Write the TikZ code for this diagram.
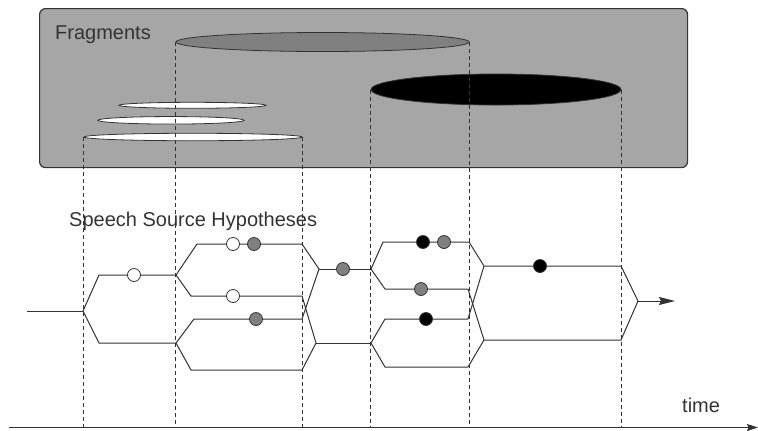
\documentclass[tikz,border=0pt]{standalone}
\usepackage{fontspec}
\setmainfont{Liberation Sans}
\usetikzlibrary{shapes.geometric,arrows.meta}
\definecolor{boxgray}{HTML}{A6A6A6}
\definecolor{midgray}{HTML}{808080}
\definecolor{ink}{HTML}{333333}
\tikzset{
  frag/.style={ellipse, draw=ink, line width=0.8bp, inner sep=0pt},
  proj/.style={draw=ink, dash pattern=on 4bp off 3bp, line width=0.9bp},
  hyp/.style={draw=ink, line width=1bp},
  dotw/.style={circle, draw=ink, fill=white, line width=0.8bp, minimum size=13bp, inner sep=0pt},
  dotg/.style={dotw, fill=midgray},
  dotb/.style={dotw, fill=black},
  lbl/.style={text=ink, inner sep=0pt, font=\fontsize{20bp}{23bp}\selectfont},
}
\begin{document}
\begin{tikzpicture}[x=1bp,y=-1bp]
\useasboundingbox (0,0) rectangle (758,430);
% fragments box
\node[draw=ink, fill=boxgray, line width=1.2bp, rounded corners=6bp, minimum width=648bp, minimum height=159bp, inner sep=0pt, anchor=north west] (box) at (39,8) {};
\node[lbl, anchor=base west] (fraglbl) at (55,39.5) {Fragments};
% fragment ellipses
\node[frag, fill=midgray, minimum width=293bp, minimum height=19bp] (fg) at (322.5,42) {};
\node[frag, fill=black, minimum width=250bp, minimum height=31bp] (fb) at (496,89.5) {};
\node[frag, fill=white, minimum width=147bp, minimum height=6bp] (fw1) at (192.5,105.3) {};
\node[frag, fill=white, minimum width=146bp, minimum height=7.5bp] (fw2) at (171,120.3) {};
\node[frag, fill=white, minimum width=218bp, minimum height=7.5bp] (fw3) at (193,137) {};
% projection end points on the time axis
\coordinate (t1) at (84,427.5);
\coordinate (t2) at (176,427.5);
\coordinate (t3) at (302,427.5);
\coordinate (t4) at (371,427.5);
\coordinate (t5) at (469,427.5);
\coordinate (t6) at (621,427.5);
\draw[proj] (fw3.west) -- (fw3.west |- t1);
\draw[proj] (fg.west) -- (fg.west |- t2);
\draw[proj] (fw3.east) -- (fw3.east |- t3);
\draw[proj] (fb.west) -- (fb.west |- t4);
\draw[proj] (fg.east) -- (fg.east |- t5);
\draw[proj] (fb.east) -- (fb.east |- t6);
% time axis
\coordinate (t0) at (9,427.5);
\coordinate (tend) at (758,427.5);
\draw[draw=ink, line width=1.2bp, -{Stealth[length=11bp,width=7bp,inset=1.5bp]}] (t0) -- (tend);
\node[lbl, anchor=base west] (timelbl) at (682,412.3) {time};
\node[lbl, anchor=base west] (hyplbl) at (69,226.7) {Speech Source Hypotheses};
% hypothesis graph points
\coordinate (s0) at (27,311);
\coordinate (a) at (83,311);
\coordinate (a1) at (99,275);   \coordinate (a1e) at (176,275);
\coordinate (a2) at (99,343);   \coordinate (a2e) at (176,343);
\coordinate (b1) at (197,244);  \coordinate (b1e) at (302,244);
\coordinate (b2) at (191,296);  \coordinate (b2e) at (302,296);
\coordinate (b3) at (194,319);  \coordinate (b3e) at (302,319);
\coordinate (b4) at (191,370);  \coordinate (b4e) at (302,370);
\coordinate (c1) at (319,269);  \coordinate (c1e) at (371,269);
\coordinate (c2) at (316,343);  \coordinate (c2e) at (371,343);
\coordinate (d1) at (383,242);  \coordinate (d1e) at (469,242);
\coordinate (d2) at (385,289);  \coordinate (d2e) at (468,289);
\coordinate (d3) at (385,319);  \coordinate (d3e) at (468,319);
\coordinate (d4) at (385,367);  \coordinate (d4e) at (468,367);
\coordinate (e1) at (484,266);  \coordinate (e1e) at (621,266);
\coordinate (e2) at (484,340);  \coordinate (e2e) at (621,340);
\coordinate (f) at (638,301);
\coordinate (fout) at (675,301);
% branches
\draw[hyp] (s0) -- (a);
\draw[hyp] (a) -- (a1) -- (a1e);
\draw[hyp] (a) -- (a2) -- (a2e);
\draw[hyp] (a1e) -- (b1) -- (b1e);
\draw[hyp] (a1e) -- (b2) -- (b2e);
\draw[hyp] (a2e) -- (b3) -- (b3e);
\draw[hyp] (a2e) -- (b4) -- (b4e);
\draw[hyp] (b1e) -- (c1);
\draw[hyp] (b3e) -- (c1);
\draw[hyp] (b2e) -- (c2);
\draw[hyp] (b4e) -- (c2);
\draw[hyp] (c1) -- (c1e);
\draw[hyp] (c2) -- (c2e);
\draw[hyp] (c1e) -- (d1) -- (d1e);
\draw[hyp] (c1e) -- (d2) -- (d2e);
\draw[hyp] (c2e) -- (d3) -- (d3e);
\draw[hyp] (c2e) -- (d4) -- (d4e);
\draw[hyp] (d1e) -- (e1);
\draw[hyp] (d3e) -- (e1);
\draw[hyp] (d2e) -- (e2);
\draw[hyp] (d4e) -- (e2);
\draw[hyp] (e1) -- (e1e) -- (f);
\draw[hyp] (e2) -- (e2e) -- (f);
\draw[hyp, -{Stealth[length=16bp,width=8bp,inset=2bp]}] (f) -- (fout);
% observation dots
\node[dotw] (o1) at (134,275) {};
\node[dotw] (o2) at (233,244) {};
\node[dotg] (o3) at (254,244) {};
\node[dotw] (o4) at (233,296) {};
\node[dotg] (o5) at (256,319) {};
\node[dotg] (o6) at (343,269) {};
\node[dotb] (o7) at (423,242) {};
\node[dotg] (o8) at (444,242) {};
\node[dotg] (o9) at (421,289) {};
\node[dotb] (o10) at (426,319) {};
\node[dotb] (o11) at (540,266) {};
\end{tikzpicture}
\end{document}
